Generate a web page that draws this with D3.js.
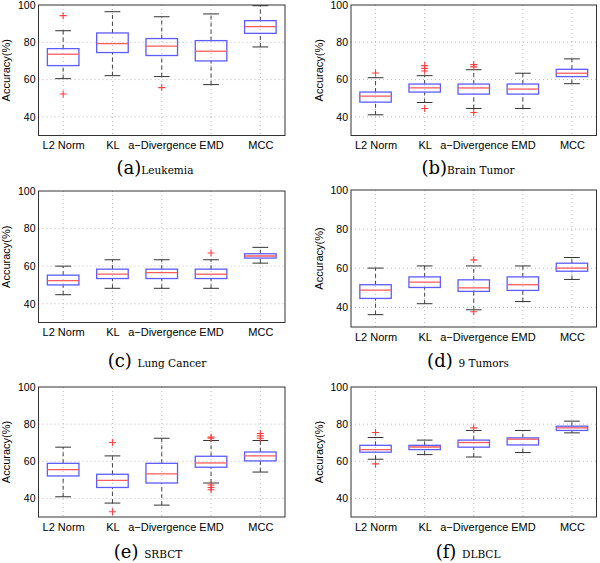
<!DOCTYPE html>
<html>
<head>
<meta charset="utf-8">
<script src="https://cdn.jsdelivr.net/npm/d3@7"></script>
<style>
  body { margin: 0; background: #fff; }
  svg { display: block; }
  .tick text { font-family: "Liberation Sans", Arial, sans-serif; fill: #000; }
</style>
</head>
<body>
<svg id="chart" width="600" height="563"></svg>
<script>
// Method names along the x axis of every panel.
const categories = ["L2 Norm", "KL", "a\u2212Divergence", "EMD", "MCC"];
const yTicks = [40, 60, 80, 100];
const yDomain = [30, 100];

// Box statistics per method: [lower whisker, q1, median, q3, upper whisker]
const leukemiaStats = [[60.5, 67.5, 73.6, 76.6, 86.2], [62.1, 74.5, 79.3, 85.0, 96.4], [61.6, 72.9, 77.9, 82.0, 93.7], [57.3, 70.0, 75.2, 80.9, 95.2], [77.5, 84.8, 88.4, 91.6, 99.6]];
const leukemiaOutliers = [[94.3, 52.3], [], [55.7], [], []];

const brainStats = [[41.1, 47.9, 51.1, 53.3, 61.0], [47.7, 53.3, 55.5, 57.6, 62.1], [44.5, 52.2, 55.5, 57.6, 65.3], [44.5, 52.2, 54.9, 57.6, 63.4], [57.8, 61.6, 63.4, 65.5, 71.1]];
const brainOutliers = [[63.5], [67.5, 66.0, 64.6, 44.5], [68.0, 66.8, 42.3], [], []];

const lungStats = [[44.8, 50.0, 52.3, 55.2, 60.0], [48.2, 53.4, 55.7, 58.4, 63.4], [48.2, 53.4, 56.6, 58.4, 63.4], [48.2, 53.4, 55.7, 58.4, 63.4], [61.6, 64.3, 65.4, 66.6, 70.0]];
const lungOutliers = [[], [], [], [67.0], []];

const tumorsStats = [[36.3, 44.6, 48.8, 51.6, 60.1], [41.9, 50.2, 52.9, 55.6, 61.2], [38.8, 48.2, 50.0, 54.1, 61.2], [43.0, 48.7, 51.6, 55.6, 61.2], [54.3, 58.5, 60.1, 62.6, 65.5]];
const tumorsOutliers = [[], [], [64.3, 37.8], [], []];

const srbctStats = [[40.9, 52.1, 55.5, 58.9, 67.6], [37.5, 45.9, 49.7, 53.0, 62.9], [36.4, 48.3, 53.2, 58.9, 72.4], [48.3, 56.8, 59.1, 62.7, 71.2], [54.2, 60.2, 62.9, 65.0, 71.2]];
const srbctOutliers = [[], [70.1, 32.8], [], [73.0, 72.4, 47.2, 45.9, 44.7], [75.0, 73.7, 72.4]];

const dlbclStats = [[61.1, 64.9, 66.3, 68.6, 72.8], [63.6, 66.3, 67.7, 68.6, 71.4], [62.3, 67.6, 70.1, 71.4, 76.6], [64.7, 68.8, 71.9, 72.6, 76.6], [75.3, 76.6, 78.0, 78.9, 81.6]];
const dlbclOutliers = [[75.5, 58.6], [], [78.0], [], []];

const panelLetters = ["(a)", "(b)", "(c)", "(d)", "(e)", "(f)"];
const panelNames = ["Leukemia", "Brain Tumor", "Lung Cancer", "9 Tumors", "SRBCT", "DLBCL"];
const panelStats = [leukemiaStats, brainStats, lungStats, tumorsStats, srbctStats, dlbclStats];
const panelOutliers = [leukemiaOutliers, brainOutliers, lungOutliers, tumorsOutliers, srbctOutliers, dlbclOutliers];

// Layout: plot frame [left, top, right, bottom] and caption [centre x, baseline y].
const frames = [[38.5, 5, 285, 135.5], [351, 5, 596.5, 135.5], [38.5, 191, 285, 322.5], [351, 190, 596.5, 327], [38.5, 387, 285, 517], [351, 387, 596.5, 517]];
const captions = [[155, 174, ""], [468, 174, ""], [157, 367, " "], [468, 367, " "], [148, 558, " "], [468, 558, " "]];

const svg = d3.select("#chart");

function drawPanel(i) {
    const [left, top, right, bottom] = frames[i];
    const stats = panelStats[i];
    const outliers = panelOutliers[i];

    const x = d3.scalePoint().domain(categories).range([left, right]).padding(0.5);
    const y = d3.scaleLinear().domain(yDomain).range([bottom, top]);
    const step = x.step();
    const boxW = step * 0.64;
    const capW = step * 0.32;

    const g = svg.append("g");

    // Dotted grid.
    g.selectAll(".hgrid").data(yTicks.filter(t => t < 100)).join("line")
        .attr("x1", left).attr("x2", right)
        .attr("y1", d => y(d)).attr("y2", d => y(d))
        .attr("stroke", "#a8a8a8").attr("stroke-width", 0.8)
        .attr("stroke-dasharray", "1,3");
    g.selectAll(".vgrid").data(categories).join("line")
        .attr("x1", d => x(d)).attr("x2", d => x(d))
        .attr("y1", top).attr("y2", bottom)
        .attr("stroke", "#a8a8a8").attr("stroke-width", 0.8)
        .attr("stroke-dasharray", "1,3");

    const box = g.selectAll(".box").data(stats).join("g")
        .attr("transform", (d, j) => `translate(${x(categories[j])},0)`);

    // Dashed whiskers.
    box.append("line")
        .attr("y1", d => y(d[3])).attr("y2", d => y(d[4]))
        .attr("stroke", "#444").attr("stroke-width", 1)
        .attr("stroke-dasharray", "4,3");
    box.append("line")
        .attr("y1", d => y(d[0])).attr("y2", d => y(d[1]))
        .attr("stroke", "#444").attr("stroke-width", 1)
        .attr("stroke-dasharray", "4,3");
    // Caps.
    box.append("line")
        .attr("x1", -capW / 2).attr("x2", capW / 2)
        .attr("y1", d => y(d[4])).attr("y2", d => y(d[4]))
        .attr("stroke", "#333").attr("stroke-width", 1);
    box.append("line")
        .attr("x1", -capW / 2).attr("x2", capW / 2)
        .attr("y1", d => y(d[0])).attr("y2", d => y(d[0]))
        .attr("stroke", "#333").attr("stroke-width", 1);
    // Box.
    box.append("rect")
        .attr("x", -boxW / 2).attr("width", boxW)
        .attr("y", d => y(d[3])).attr("height", d => y(d[1]) - y(d[3]))
        .attr("fill", "none").attr("stroke", "#5c5cff").attr("stroke-width", 1.3);
    // Median.
    box.append("line")
        .attr("x1", -boxW / 2).attr("x2", boxW / 2)
        .attr("y1", d => y(d[2])).attr("y2", d => y(d[2]))
        .attr("stroke", "#ff5a5a").attr("stroke-width", 1.3);

    // Outliers as red plus signs.
    const pts = outliers.flatMap((arr, j) => arr.map(v => ({ c: categories[j], v })));
    g.selectAll(".out").data(pts).join("path")
        .attr("d", d => `M${x(d.c) - 3.5},${y(d.v)}h7M${x(d.c)},${y(d.v) - 3.5}v7`)
        .attr("stroke", "#ff4040").attr("stroke-width", 1.1);

    // Frame.
    g.append("rect")
        .attr("x", left).attr("y", top)
        .attr("width", right - left).attr("height", bottom - top)
        .attr("fill", "none").attr("stroke", "#333").attr("stroke-width", 1);

    // Axes (labels only).
    const ya = g.append("g").attr("transform", `translate(${left},0)`)
        .call(d3.axisLeft(y).tickValues(yTicks).tickSize(0).tickPadding(3));
    ya.select(".domain").remove();
    ya.selectAll("text").style("font-size", "10.5px");

    const xa = g.append("g").attr("transform", `translate(0,${bottom})`)
        .call(d3.axisBottom(x).tickSize(0).tickPadding(6));
    xa.select(".domain").remove();
    xa.selectAll("text").style("font-size", "11px");

    g.append("text")
        .attr("transform", `translate(${left - 32},${(top + bottom) / 2}) rotate(-90)`)
        .attr("text-anchor", "middle")
        .attr("dy", "0.35em")
        .style("font-family", "'Liberation Sans', Arial, sans-serif")
        .style("font-size", "11px")
        .attr("fill", "#000")
        .text("Accuracy(%)");

    // Caption.
    const [cx, cy, sep] = captions[i];
    const cap = g.append("text")
        .attr("x", cx).attr("y", cy)
        .attr("text-anchor", "middle")
        .style("font-family", "'DejaVu Serif', serif")
        .attr("fill", "#000");
    cap.append("tspan").style("font-size", "18px").text(panelLetters[i] + sep);
    cap.append("tspan").style("font-size", "10.5px").text(panelNames[i]);
}

d3.range(6).forEach(drawPanel);
</script>
</body>
</html>
